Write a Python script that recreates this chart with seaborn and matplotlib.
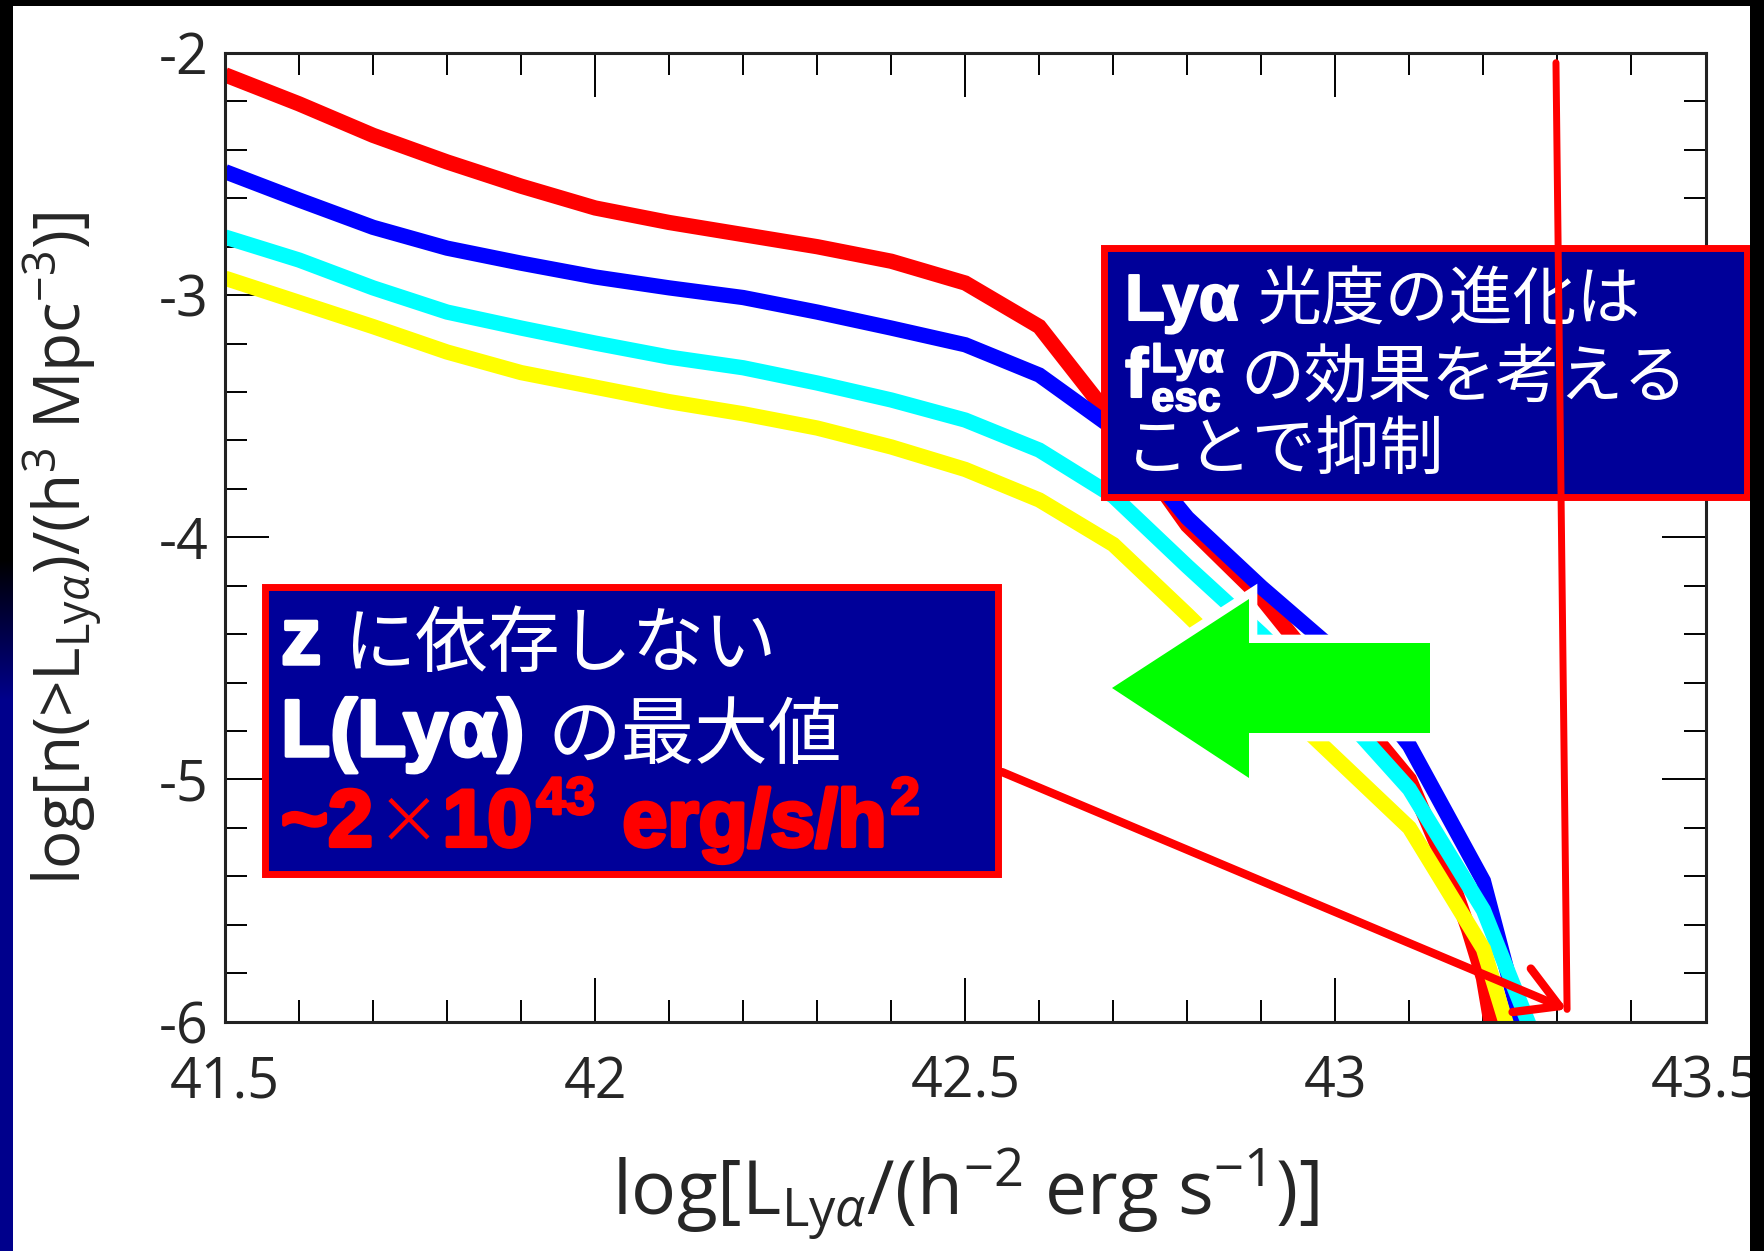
import numpy as np
import pandas as pd
import matplotlib
matplotlib.use("Agg")
import matplotlib.pyplot as plt
import matplotlib.patheffects as pe
from matplotlib.patches import Rectangle, Polygon
from matplotlib.ticker import MultipleLocator
import seaborn as sns

# Cumulative Lya luminosity functions: log L [h^-2 erg/s] vs log n(>L) [h^3 Mpc^-3]
log_L_red = [41.5, 41.6, 41.7, 41.8, 41.9, 42.0, 42.1, 42.2, 42.3, 42.4, 42.5,
             42.6, 42.7, 42.8, 42.9, 43.0, 43.1, 43.15, 43.18, 43.2, 43.21, 43.22]
log_n_red = [-2.09, -2.21, -2.34, -2.45, -2.55, -2.64, -2.70, -2.75, -2.80, -2.86, -2.95,
             -3.13, -3.52, -3.95, -4.25, -4.63, -5.00, -5.36, -5.62, -5.82, -6.0, -6.3]

log_L_blue = [41.5, 41.6, 41.7, 41.8, 41.9, 42.0, 42.1, 42.2, 42.3, 42.4, 42.5,
              42.6, 42.7, 42.8, 42.9, 43.0, 43.1, 43.2, 43.25, 43.3]
log_n_blue = [-2.49, -2.607, -2.72, -2.806, -2.868, -2.925, -2.97, -3.01, -3.07, -3.136, -3.205,
              -3.33, -3.55, -3.92, -4.206, -4.47, -4.86, -5.42, -6.0, -6.6]

log_L_cyan = [41.5, 41.6, 41.7, 41.8, 41.9, 42.0, 42.1, 42.2, 42.3, 42.4, 42.5,
              42.6, 42.7, 42.8, 42.9, 43.0, 43.1, 43.2, 43.26, 43.3]
log_n_cyan = [-2.76, -2.855, -2.97, -3.07, -3.136, -3.198, -3.256, -3.30, -3.363, -3.433, -3.516,
              -3.64, -3.83, -4.12, -4.40, -4.70, -5.04, -5.54, -6.0, -6.31]

log_L_yellow = [41.5, 41.6, 41.7, 41.8, 41.9, 42.0, 42.1, 42.2, 42.3, 42.4, 42.5,
                42.6, 42.7, 42.8, 42.9, 43.0, 43.1, 43.2, 43.23, 43.3]
log_n_yellow = [-2.93, -3.03, -3.13, -3.235, -3.32, -3.38, -3.44, -3.49, -3.549, -3.627, -3.72,
                -3.846, -4.03, -4.32, -4.62, -4.91, -5.20, -5.70, -6.0, -6.7]

series_names = ["red", "blue", "cyan", "yellow"]
series_colors = ["#FF0000", "#0000FF", "#00FFFF", "#FFFF00"]

x_major = [41.5, 42.0, 42.5, 43.0, 43.5]
x_labels = ["41.5", "42", "42.5", "43", "43.5"]
y_major = [-6, -5, -4, -3, -2]
y_labels = ["-6", "-5", "-4", "-3", "-2"]

# Annotation arrows (data coordinates)
max_L_tip = (43.313, -5.95)
vline_top = (43.298, -2.04)
diag_start = (42.55, -4.97)

sns.set_style("ticks")
plt.rcParams["font.family"] = ["Open Sans", "DejaVu Sans"]
plt.rcParams["mathtext.fontset"] = "custom"
plt.rcParams["mathtext.rm"] = "Open Sans"
plt.rcParams["mathtext.it"] = "Open Sans:italic"
plt.rcParams["mathtext.bf"] = "Open Sans:bold"

W, H = 1764, 1251
fig = plt.figure(figsize=(W / 100, H / 100), dpi=100, facecolor="white")


def fx(px):
    return px / W


def fy(py):
    return 1 - py / H


ax = fig.add_axes([fx(225), fy(1021.5), (1705.5 - 225) / W, (1021.5 - 53) / H])
ax.set_facecolor("white")

frames = []
for name, xs, ys in zip(series_names,
                        [log_L_red, log_L_blue, log_L_cyan, log_L_yellow],
                        [log_n_red, log_n_blue, log_n_cyan, log_n_yellow]):
    frames.append(pd.DataFrame({"logL": xs, "logn": ys, "series": name}))
df = pd.concat(frames, ignore_index=True)

sns.lineplot(data=df, x="logL", y="logn", hue="series", hue_order=series_names,
             palette=dict(zip(series_names, series_colors)), sort=False,
             estimator=None, linewidth=11, legend=False, ax=ax)
for ln in ax.get_lines():
    ln.set_solid_joinstyle("miter")
    ln.set_solid_capstyle("butt")

ax.set_xlim(41.5, 43.5)
ax.set_ylim(-6, -2)
ax.set_xticks(x_major, labels=x_labels)
ax.set_yticks(y_major, labels=y_labels)
ax.xaxis.set_minor_locator(MultipleLocator(0.1))
ax.yaxis.set_minor_locator(MultipleLocator(0.2))
ax.tick_params(which="both", direction="in", top=True, right=True,
               width=1.4, color="black")
ax.tick_params(which="major", length=32, labelsize=40)
ax.tick_params(which="minor", length=16)
ax.tick_params(axis="x", which="major", pad=24)
ax.tick_params(axis="y", which="major", pad=12)
for s in ax.spines.values():
    s.set_linewidth(2.2)
    s.set_color("#222222")
    s.set_visible(True)

ax.set_xlabel(r"log[L$_{\mathrm{Ly}\alpha}$/(h$^{-2}$ erg s$^{-1}$)]", fontsize=54)
ax.set_ylabel(r"log[n(>L$_{\mathrm{Ly}\alpha}$)/(h$^{3}$ Mpc$^{-3}$)]", fontsize=46)
ax.xaxis.label.set(va="center", ha="center")
ax.yaxis.label.set(va="center", ha="center", rotation_mode="anchor")
ax.xaxis.set_label_coords(0.5, -0.178)
ax.yaxis.set_label_coords(-0.109, 0.489)

# ---- overlay boxes ----
NAVY = "#000099"
RED = "#FF0000"
LAT = ["Liberation Sans", "DejaVu Sans"]
JP = ["Noto Sans CJK JP", "DejaVu Sans"]

for (x0, y0, x1, y1) in [(1100, 244, 1750, 500), (261, 583, 1001, 877)]:
    ax.add_patch(Rectangle((fx(x0 + 3.5), fy(y1 - 3.5)), (x1 - x0 - 7) / W, (y1 - y0 - 7) / H,
                           transform=fig.transFigure, facecolor=NAVY, edgecolor=RED,
                           linewidth=5, zorder=5, clip_on=False))

renderer = fig.canvas.get_renderer()


def put(x, y, s, size, family, weight="normal", color="white", heavy=0.0):
    t = ax.text(fx(x), fy(y), s, transform=fig.transFigure, ha="left", va="baseline",
                fontsize=size, family=family, weight=weight, color=color,
                zorder=6, clip_on=False)
    if heavy:
        t.set_path_effects([pe.withStroke(linewidth=heavy, foreground=color)])
    return t.get_window_extent(renderer).x1 + heavy * 0.7


# right box
x = put(1125, 320, "Lyα", 47, LAT, "bold", heavy=1.5)
put(x + 18, 320, "光度の進化は", 46, JP)
x = put(1125, 397, "f", 50, LAT, "bold", heavy=1.5)
xa = put(x + 2, 372, "Lyα", 30, LAT, "bold", heavy=1.2)
xb = put(x + 2, 411, "esc", 30, LAT, "bold", heavy=1.2)
put(max(xa, xb) + 16, 397, "の効果を考える", 46, JP)
put(1125, 470, "ことで抑制", 46, JP)

# left box
x = put(281, 664, "z", 58, LAT, "bold", heavy=2.5)
put(x + 20, 666, "に依存しない", 52, JP)
x = put(281, 756, "L(Lyα)", 58, LAT, "bold", heavy=2.5)
put(x + 22, 758, "の最大値", 53, JP)
x = put(281, 846, "~2", 58, LAT, "bold", RED, heavy=3)
x = put(x + 2, 842, "×", 46, JP, "normal", RED)
x = put(x + 2, 846, "10", 58, LAT, "bold", RED, heavy=3)
x = put(x + 2, 814, "43", 38, LAT, "bold", RED, heavy=2)
x = put(x + 4, 846, " erg/s/h", 58, LAT, "bold", RED, heavy=3)
put(x + 2, 814, "2", 38, LAT, "bold", RED, heavy=2)

# red annotation lines
ax.annotate("", xy=max_L_tip, xytext=vline_top, xycoords="data", textcoords="data",
            arrowprops=dict(arrowstyle="-", color=RED, lw=5, shrinkA=0, shrinkB=0),
            annotation_clip=False, zorder=7)
ax.annotate("", xy=max_L_tip, xytext=diag_start, xycoords="data", textcoords="data",
            arrowprops=dict(arrowstyle="->,head_length=0.866,head_width=0.5", color=RED,
                            lw=6, mutation_scale=34, shrinkA=0, shrinkB=0),
            annotation_clip=False, zorder=4.5)

# green block arrow
arrow_px = [(1112, 688), (1249, 599), (1249, 643), (1430, 643), (1430, 733),
            (1249, 733), (1249, 778)]
ax.add_patch(Polygon([(fx(px), fy(py)) for px, py in arrow_px], closed=True,
                     transform=fig.transFigure, facecolor="#00FF00", edgecolor="none",
                     zorder=8, clip_on=False,
                     path_effects=[pe.withStroke(linewidth=12, foreground="white")]))

# slide frame edges
fig.add_artist(Rectangle((fx(1750), 0), (W - 1750) / W, 1, transform=fig.transFigure,
                         facecolor="black", edgecolor="none", zorder=20))
fig.add_artist(Rectangle((0, fy(6)), 1, 6 / H, transform=fig.transFigure,
                         facecolor="black", edgecolor="none", zorder=20))
edge = fig.add_axes([0, 0, 13 / W, 1], zorder=21)
rows = np.arange(H)
mix = np.clip((rows - 560) / 140.0, 0, 1)
col = np.zeros((H, 1, 3))
col[:, 0, 2] = 0.55 * mix
edge.imshow(col, aspect="auto", extent=[0, 1, 0, 1], origin="upper")
edge.set_axis_off()

fig.savefig("out.png", dpi=100, facecolor="white")
